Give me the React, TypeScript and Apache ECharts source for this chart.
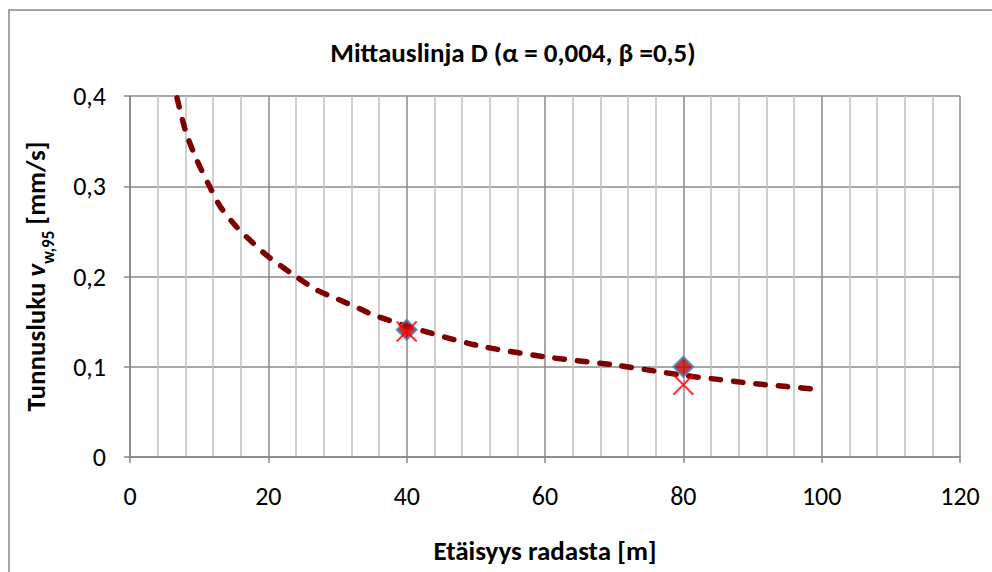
import React, { useEffect, useRef } from "react";
import * as echarts from "echarts";

const titleText = "Mittauslinja D (α = 0,004, β =0,5)";
const xAxisTitle = "Etäisyys radasta [m]";

const curveX = [6.8, 8, 9.6, 11.5, 13, 15.4, 17.8, 20, 24, 27, 30, 33, 35, 38, 40, 50, 60, 70, 80, 85, 90, 95, 100];
const curveY = [0.398, 0.362, 0.33, 0.3, 0.278, 0.255, 0.237, 0.222, 0.2, 0.185, 0.175, 0.165, 0.158, 0.15, 0.145, 0.124, 0.111, 0.102, 0.0905, 0.086, 0.0815, 0.078, 0.0745];

const measX = [40, 80];
const diamondY = [0.141, 0.1];
const crossY = [0.139, 0.08];

const FONT = "Carlito, Lato, 'Open Sans', sans-serif";

export default function App() {
  const ref = useRef<HTMLDivElement>(null);
  useEffect(() => {
    if (!ref.current) return;
    const chart = echarts.init(ref.current, undefined, { renderer: "svg" });
    const fmt = (v: number) => String(Math.round(v * 10) / 10).replace(".", ",");
    chart.setOption({
      animation: false,
      backgroundColor: "#ffffff",
      textStyle: { fontFamily: FONT },
      title: {
        text: titleText,
        left: 508,
        top: 34,
        textAlign: "center",
        textStyle: { fontFamily: FONT, fontWeight: "bold", fontSize: 27, color: "#000" },
      },
      graphic: [
        {
          type: "rect",
          shape: { x: 9, y: 10, width: 1100, height: 700 },
          style: { fill: "none", stroke: "#868686", lineWidth: 1.5 },
          silent: true,
          z: -1,
        },
      ],
      grid: { left: 130, right: 32, top: 96, bottom: 115 },
      xAxis: {
        type: "value",
        min: 0,
        max: 120,
        interval: 20,
        axisLine: { show: true, lineStyle: { color: "#868686", width: 1.5 } },
        axisTick: { show: true, length: 6, lineStyle: { color: "#868686", width: 1.5 } },
        axisLabel: { fontFamily: FONT, fontSize: 26, color: "#000", margin: 26 },
        splitLine: { show: true, lineStyle: { color: "#8a8a8a", width: 1.5 } },
        minorTick: { show: false, splitNumber: 5 },
        minorSplitLine: { show: true, lineStyle: { color: "#c0c0c0", width: 1.5 } },
        name: xAxisTitle,
        nameLocation: "middle",
        nameGap: 80,
        nameTextStyle: { fontFamily: FONT, fontWeight: "bold", fontSize: 27, color: "#000" },
      },
      yAxis: {
        type: "value",
        min: 0,
        max: 0.4,
        interval: 0.1,
        axisLine: { show: true, lineStyle: { color: "#868686", width: 1.5 } },
        axisTick: { show: true, length: 6, lineStyle: { color: "#868686", width: 1.5 } },
        axisLabel: { fontFamily: FONT, fontSize: 26, color: "#000", margin: 24, formatter: fmt },
        splitLine: { show: true, lineStyle: { color: "#8a8a8a", width: 1.5 } },
        name: "{b|Tunnusluku }{v|v}{s|w,95}{b| [mm/s]}",
        nameLocation: "middle",
        nameRotate: 90,
        nameGap: 81,
        nameTextStyle: {
          fontFamily: FONT,
          color: "#000",
          rich: {
            b: { fontFamily: FONT, fontWeight: "bold", fontSize: 27, color: "#000", lineHeight: 36, verticalAlign: "bottom" },
            v: { fontFamily: FONT, fontWeight: "bold", fontStyle: "italic", fontSize: 27, color: "#000", lineHeight: 36, verticalAlign: "bottom" },
            s: { fontFamily: FONT, fontWeight: "bold", fontSize: 17, color: "#000", lineHeight: 36, verticalAlign: "bottom", padding: [0, 0, -8, 0] },
          },
        },
      },
      series: [
        {
          name: "Sovite",
          type: "line",
          data: curveX.map((x, i) => [x, curveY[i]]),
          smooth: 0.3,
          showSymbol: false,
          symbol: "none",
          lineStyle: { color: "#7f0000", width: 5.5, type: [9.5, 13], cap: "round" },
          z: 2,
        },
        {
          name: "Mitattu",
          type: "scatter",
          data: measX.map((x, i) => [x, diamondY[i]]),
          symbol: "diamond",
          symbolSize: 20,
          itemStyle: { color: "#c00000", borderColor: "#4f81bd", borderWidth: 2 },
          z: 3,
        },
        {
          name: "Arvio",
          type: "scatter",
          data: measX.map((x, i) => [x, crossY[i]]),
          symbol: "path://M0,0L10,10M10,0L0,10",
          symbolSize: 20,
          itemStyle: { color: "transparent", borderColor: "#ff0000", borderWidth: 2 },
          z: 4,
        },
      ],
    });
    return () => chart.dispose();
  }, []);
  return (
    <div
      ref={ref}
      style={{ position: "fixed", left: 0, top: 0, width: 992, height: 572, background: "#fff" }}
    />
  );
}
